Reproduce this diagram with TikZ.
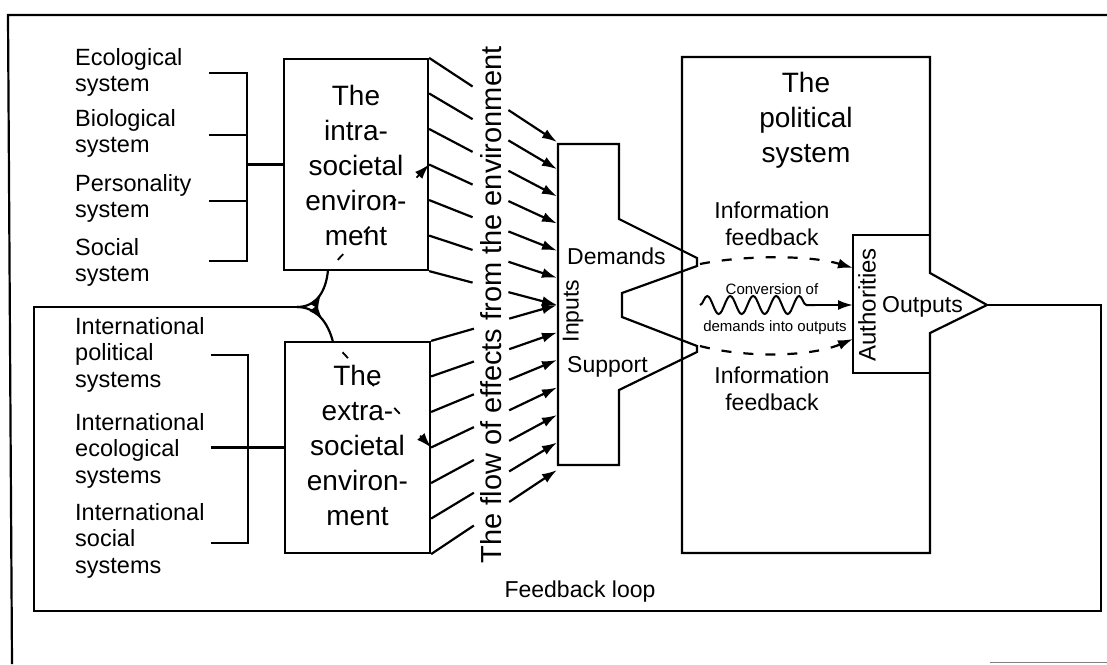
\documentclass[tikz,border=0pt]{standalone}
\usepackage{fontspec}
\setmainfont{Liberation Sans}
\usetikzlibrary{arrows.meta,calc,decorations.pathmorphing,decorations.markings}
\begin{document}
\begin{tikzpicture}[x=1pt,y=-1pt,
  lnw/.style={line width=2.2pt, line join=miter},
  boxnode/.style={draw, line width=2.2pt, rectangle, inner sep=0pt},
  arr/.style={-{Latex[length=15pt,width=10pt]}},
  lbltxt/.style={inner sep=0pt, font=\fontsize{23.5}{26}\selectfont, align=left, anchor=north west},
  bigtxt/.style={inner sep=0pt, font=\fontsize{28}{35}\selectfont, align=center, anchor=north},
  medtxt/.style={inner sep=0pt, font=\fontsize{23}{27}\selectfont, align=center},
  smalltxt/.style={inner sep=0pt, font=\fontsize{15}{17}\selectfont},
  dsh/.style={line width=2.2pt, dash pattern=on 10pt off 12pt},
  midarrow/.style={postaction={decorate}, decoration={markings, mark=at position 0.55 with {\arrow{Latex[length=15pt,width=10pt]}}}}
]
\useasboundingbox (0,0) rectangle (1107,664);

% outer frame
\draw[lnw] (12,664) -- (8,15) -- (1107,15);
\draw[line width=1pt, gray] (990,662) -- (1107,662);

% environment boxes
\node[boxnode, minimum width=144pt, minimum height=211pt] (intra) at (356,164.5) {};
\node[boxnode, minimum width=145pt, minimum height=211pt] (extra) at (357.5,447.5) {};
\node[bigtxt] (intratxt) at (356,85) {The\\intra-\\societal\\environ-\\ment};
\node[bigtxt] (extratxt) at (357.5,365) {The\\extra-\\societal\\environ-\\ment};

% left labels
\node[lbltxt] (eco) at (75,48.2) {Ecological\\system};
\node[lbltxt] (bio) at (75,109.2) {Biological\\system};
\node[lbltxt] (pers) at (75,174.2) {Personality\\system};
\node[lbltxt] (soc) at (75,238.2) {Social\\system};
\node[lbltxt, font=\fontsize{23.5}{26.5}\selectfont] (ipol) at (75,317) {International\\political\\systems};
\node[lbltxt, font=\fontsize{23.5}{26.5}\selectfont] (ieco) at (75,413.2) {International\\ecological\\systems};
\node[lbltxt, font=\fontsize{23.5}{26.5}\selectfont] (isoc) at (75,503.2) {International\\social\\systems};

% brackets
\coordinate (b1) at (209,73); \coordinate (b2) at (209,135);
\coordinate (b3) at (209,201); \coordinate (b4) at (209,261);
\draw[lnw] (b1) -- (247,73) -- (247,261) -- (b4);
\draw[lnw] (b2) -- (247,135);
\draw[lnw] (b3) -- (247,201);
\draw[lnw] (247,164.5) -- (intra.west);
\coordinate (c1) at (211,355); \coordinate (c2) at (211,543); \coordinate (c3) at (211,447.5);
\draw[lnw] (c1) -- (248,355) -- (248,543) -- (c2);
\draw[lnw] (c3) -- (extra.west);

% flow of effects
\foreach \i in {0,...,6} {
  \coordinate (us\i) at ($(intra.north east)!\i/6!(intra.south east)$);
  \coordinate (ue\i) at (557,{142+27.17*\i});
  \draw[lnw] (us\i) -- ($(us\i)!0.34!(ue\i)$);
  \draw[lnw, arr] ($(us\i)!0.62!(ue\i)$) -- (ue\i);
  \coordinate (ls\i) at ($(extra.north east)!\i/6!(extra.south east)$);
  \coordinate (le\i) at (557,{305+27.5*\i});
  \draw[lnw] (ls\i) -- ($(ls\i)!0.34!(le\i)$);
  \draw[lnw, arr] ($(ls\i)!0.62!(le\i)$) -- (le\i);
}
\node[inner sep=0pt, font=\fontsize{29}{31}\selectfont, rotate=90] (flow) at (491,305) {The flow of effects from the environment};

% inputs shape
\draw[lnw] (558,144) -- (619,144) -- (619,219) -- (697,258) -- (697,266) -- (622,293) -- (622,317) -- (697,346) -- (697,352) -- (619,390) -- (619,465) -- (558,465) -- cycle;
\node[medtxt, anchor=base west] (dem) at (567,264) {Demands};
\node[medtxt, anchor=base west] (sup) at (567,372) {Support};
\node[medtxt, rotate=90] (inp) at (573,311) {Inputs};

% political system
\draw[lnw] (930,273) -- (930,57) -- (682,57) -- (682,553) -- (930,553) -- (930,333) -- (987,305) -- cycle;
\node[bigtxt] (poltxt) at (806,72) {The\\political\\system};
\draw[lnw] (930,235) -- (853,235) -- (853,373) -- (930,373);
\node[medtxt, font=\fontsize{24}{27}\selectfont, rotate=90] (auth) at (867,305) {Authorities};
\node[medtxt, anchor=base] (outp) at (922.5,312) {Outputs};

% conversion
\coordinate (w1) at (700,305); \coordinate (w2) at (815,305); \coordinate (a1) at (853,305);
\draw[line width=2pt, decorate, decoration={snake, amplitude=9pt, segment length=23pt}] (w1) -- (w2);
\draw[lnw, arr] (w2) -- (a1);
\node[smalltxt, anchor=base] (conv1) at (772,294) {Conversion of};
\node[smalltxt, anchor=base] (conv2) at (775,331) {demands into outputs};

% information feedback
\coordinate (f1) at (700,264); \coordinate (f2) at (853,268);
\coordinate (g1) at (700,346); \coordinate (g2) at (853,339);
\draw[dsh, arr] (f1) .. controls (745,255) and (810,255) .. (f2);
\draw[dsh, arr] (g1) .. controls (745,358) and (810,357) .. (g2);
\node[medtxt, anchor=north] (if1) at (772,201.5) {Information\\feedback};
\node[medtxt, anchor=north] (if2) at (772,366.5) {Information\\feedback};

% feedback loop
\coordinate (otip) at (987,305);
\coordinate (br) at (297,307);
\draw[lnw] (otip) -- (1101,305) -- (1101,611) -- (34,611) -- (34,307) -- (br);
\draw[lnw, midarrow] (br) .. controls (316,307) and (326,292) .. (328,270);
\draw[lnw, midarrow] (br) .. controls (316,307) and (328,322) .. (333,342);
\draw[line width=1.8pt, dash pattern=on 8pt off 30pt, dash phase=-14pt, arr] (328,270) -- (us3);
\draw[line width=1.8pt, dash pattern=on 8pt off 30pt, dash phase=-14pt, arr] (333,342) -- (ls3);
\node[medtxt, anchor=base] (fbl) at (580,597) {Feedback loop};
\end{tikzpicture}
\end{document}
